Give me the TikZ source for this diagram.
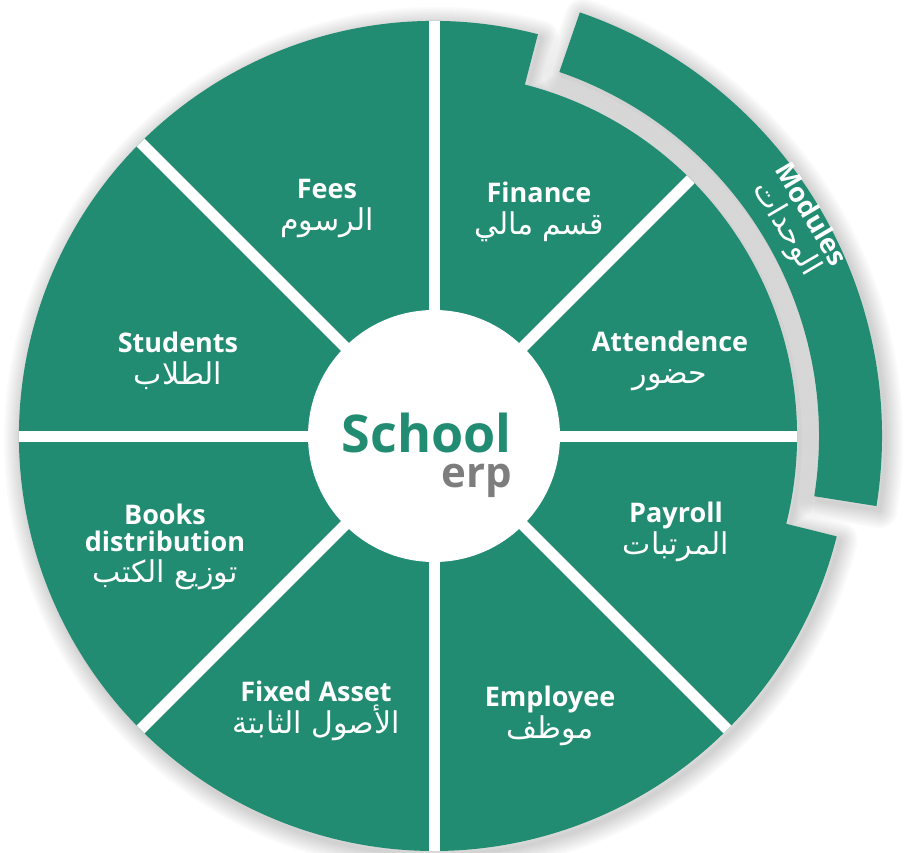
\documentclass[tikz,border=0pt]{standalone}
\usepackage{fontspec}
\setmainfont{Open Sans}
\newfontfamily\arabicfont[Script=Arabic]{DejaVu Sans}
\TeXXeTstate=1
\definecolor{erpGreen}{RGB}{33,140,113}
\definecolor{erpGray}{RGB}{125,125,125}
\newcommand{\discShape}{(75.5:415) arc[start angle=75.5, end angle=346, radius=415] -- (346:363) arc[start angle=346, end angle=435.5, radius=363] -- cycle}
\newcommand{\bandShape}{(-9:385) arc[start angle=-9, end angle=71, radius=385] -- (71:448) arc[start angle=71, end angle=-9, radius=448] -- cycle}
\newcommand{\arLine}[1]{{\arabicfont\mdseries\fontsize{30}{32}\selectfont\beginR #1\endR}}
\tikzset{
	modText/.style={text=white, font=\fontsize{27}{32}\selectfont\bfseries, inner sep=0pt, align=center, anchor=base},
	whiteLine/.style={white, line width=11pt},
	blurShadow/.style={black, opacity=0.02, line join=round}
}
\begin{document}
\begin{tikzpicture}[x=1pt, y=1pt]
			\useasboundingbox[fill=white] (-434,-416) rectangle (476,436);

			% soft shadow
			\foreach \w in {4,8,...,36}{
				\draw[blurShadow, line width=\w pt, shift={(3,-4)}] \discShape;
				\draw[blurShadow, line width=\w pt, shift={(3,-4)}] \bandShape;
			}

			\fill[erpGreen] \discShape;
			\fill[erpGreen] \bandShape;

			\begin{scope}
				\clip \discShape;
				\foreach \a in {0,45,...,315}
					\draw[whiteLine] (0,0) -- (\a:460);
			\end{scope}

			\node[circle, fill=white, minimum size=252pt, inner sep=0pt](hub) at (0,0){};
			\node[text=erpGreen, font=\fontsize{52}{56}\selectfont\bfseries, inner sep=0pt, anchor=base east](schoolText) at (78,-16){School};
			\node[text=erpGray, font=\fontsize{42}{44}\selectfont\bfseries, inner sep=0pt, anchor=base east](erpText) at (78,-51){erp};

			% anchor=base sits on the last (Arabic) line
			\node[modText](feesLabel) at (-107,206){Fees\\\arLine{الرسوم}};
			\node[modText](studentsLabel) at (-256,52){Students\\\arLine{الطلاب}};
			\node[modText](financeLabel) at (105,202){Finance\\\arLine{قسم مالي}};
			\node[modText](attendenceLabel) at (236,53){Attendence\\\arLine{حضور}};
			\node[modText](payrollLabel) at (242,-118){Payroll\\\arLine{المرتبات}};
			\node[modText](employeeLabel) at (116,-302){Employee\\\arLine{موظف}};
			\node[modText](assetLabel) at (-118,-297){Fixed Asset\\\arLine{الأصول الثابتة}};
			\node[modText, font=\fontsize{27}{27}\selectfont\bfseries](booksLabel) at (-269,-146){Books\\distribution\\[4pt]\arLine{توزيع الكتب}};

			\node[modText, anchor=center, font=\fontsize{27}{28}\selectfont\bfseries, rotate=-59.5](modulesLabel) at (30.5:421){Modules\\\arLine{الوحدات}};
\end{tikzpicture}
\end{document}
